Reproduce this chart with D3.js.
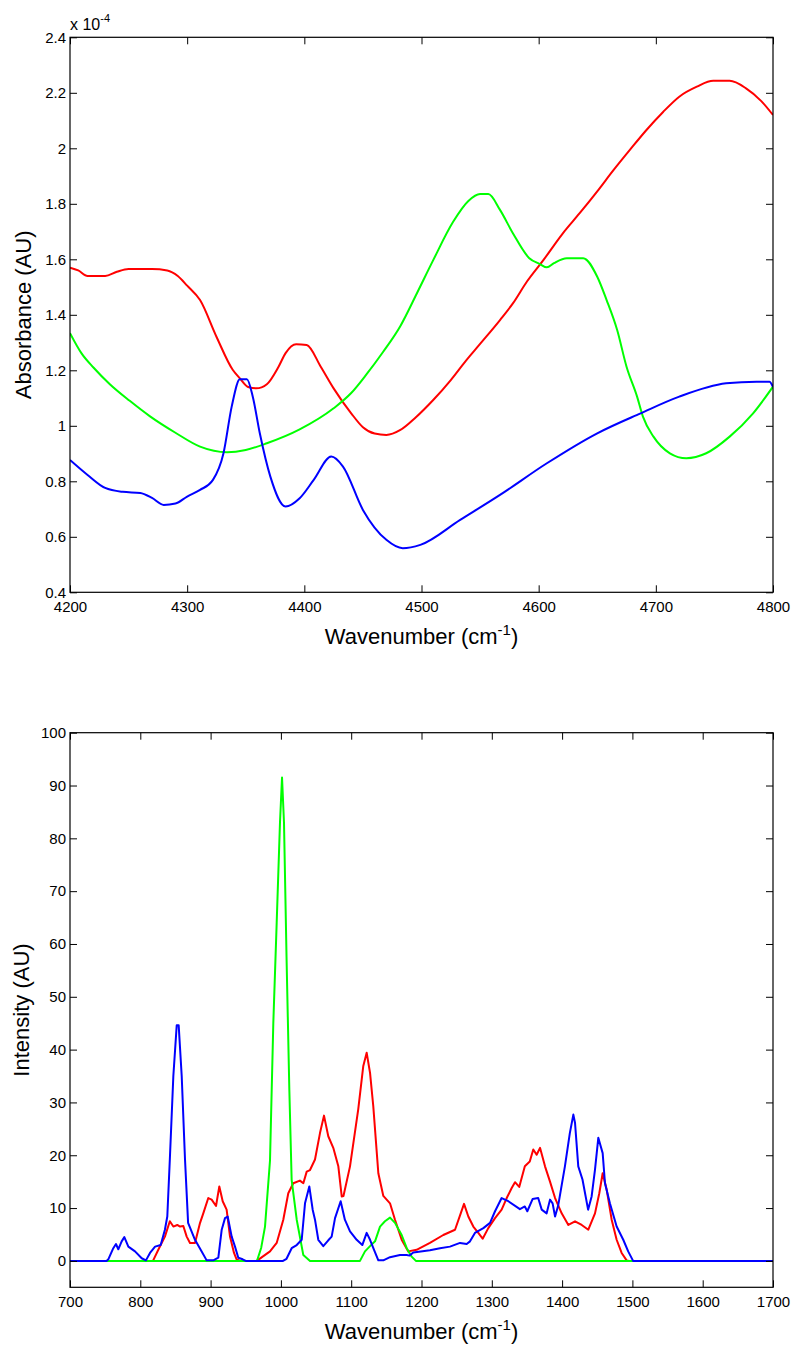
<!DOCTYPE html>
<html>
<head>
<meta charset="utf-8">
<script src="https://cdn.jsdelivr.net/npm/d3@7"></script>
<style>
body { margin: 0; background: #fff; }
svg text { font-family: "Liberation Sans", Arial, Helvetica, sans-serif; fill: #000; }
</style>
</head>
<body>
<div id="chart"></div>
<script>
// top panel: absorbance, values in units of 1e-4 AU, [wavenumber, value]
const absRed = [
    [4200, 1.57], [4207, 1.56], [4215, 1.54], [4230, 1.54], [4240, 1.555], [4250, 1.565],
    [4270, 1.565], [4283, 1.56], [4292, 1.54], [4300, 1.505], [4311, 1.453], [4325, 1.321],
    [4339, 1.201], [4345, 1.171], [4352, 1.14], [4359, 1.135], [4368, 1.15], [4378, 1.213],
    [4384, 1.262], [4393, 1.294], [4402, 1.291], [4414, 1.213], [4425, 1.135], [4440, 1.045],
    [4450, 0.995], [4460, 0.972], [4470, 0.967], [4482, 0.985], [4495, 1.03], [4510, 1.093],
    [4525, 1.165], [4538, 1.235], [4550, 1.295], [4567, 1.381], [4578, 1.441], [4590, 1.52],
    [4604, 1.597], [4620, 1.69], [4635, 1.766], [4650, 1.845], [4664, 1.922], [4678, 1.995],
    [4692, 2.066], [4706, 2.13], [4720, 2.186], [4735, 2.222], [4749, 2.243], [4763, 2.243],
    [4777, 2.216], [4790, 2.17], [4800, 2.12]
];
const absGreen = [
    [4200, 1.334], [4210, 1.26], [4220, 1.21], [4234, 1.15], [4251, 1.09], [4268, 1.035],
    [4290, 0.975], [4311, 0.925], [4334, 0.905], [4350, 0.913], [4368, 0.937], [4396, 0.987],
    [4425, 1.063], [4440, 1.118], [4453, 1.185], [4467, 1.265], [4482, 1.36], [4496, 1.477],
    [4510, 1.597], [4527, 1.735], [4540, 1.81], [4550, 1.835], [4557, 1.835], [4567, 1.778],
    [4578, 1.694], [4592, 1.604], [4601, 1.583], [4607, 1.571], [4613, 1.586], [4624, 1.604],
    [4638, 1.604], [4650, 1.537], [4658, 1.453], [4667, 1.345], [4675, 1.213], [4684, 1.105],
    [4689, 1.033], [4698, 0.961], [4712, 0.901], [4726, 0.883], [4743, 0.901], [4763, 0.961],
    [4783, 1.045], [4800, 1.141]
];
const absBlue = [
    [4200, 0.877], [4215, 0.823], [4230, 0.776], [4245, 0.762], [4260, 0.758], [4270, 0.74],
    [4280, 0.715], [4290, 0.72], [4300, 0.745], [4311, 0.769], [4322, 0.805], [4331, 0.901],
    [4338, 1.069], [4345, 1.168], [4351, 1.168], [4356, 1.105], [4362, 0.973], [4371, 0.817],
    [4384, 0.709], [4396, 0.739], [4408, 0.805], [4423, 0.889], [4433, 0.853], [4450, 0.697],
    [4470, 0.589], [4484, 0.559], [4499, 0.571], [4533, 0.661], [4567, 0.751], [4607, 0.865],
    [4650, 0.973], [4687, 1.045], [4720, 1.105], [4760, 1.153], [4786, 1.159], [4797, 1.159],
    [4800, 1.14]
];
const absXTicks = [4200, 4300, 4400, 4500, 4600, 4700, 4800];
const absYTicks = [0.4, 0.6, 0.8, 1, 1.2, 1.4, 1.6, 1.8, 2, 2.2, 2.4];

// bottom panel: Raman intensity, [wavenumber, value]
const ramanRed = [
    [700, 0], [818, 0], [825.6, 2.1], [835, 4.6], [842, 7.5], [847, 6.5], [852.6, 6.8],
    [856.5, 6.5], [861.2, 6.6], [866, 4.6], [870.7, 3.4], [877.8, 3.4], [885, 7.2], [889.6, 9.0],
    [896.7, 11.9], [901.5, 11.6], [907.7, 10.4], [912.4, 14.1], [917.2, 11.3], [922.8, 9.7],
    [927.6, 4.6], [933.3, 1.5], [937, 0.3], [942, 0], [965.6, 0], [984.5, 1.8], [994, 3.4],
    [1003.4, 7.8], [1010.5, 12.8], [1017.6, 14.7], [1027, 15.2], [1031.9, 14.7], [1036.7, 16.9],
    [1041.4, 17.2], [1048.5, 19.2], [1055.6, 24.2], [1061.3, 27.5], [1067.4, 23.6], [1074.5, 21.4],
    [1081.7, 17.9], [1086.5, 12.2], [1089, 12.3], [1098.3, 17.9], [1110, 28.7], [1117.2, 36.9],
    [1122, 39.4], [1126.8, 35.6], [1131.4, 29.3], [1138.6, 16.6], [1145.7, 12.3], [1155.2, 10.9],
    [1162.3, 7.8], [1171.8, 4.0], [1181.2, 1.8], [1193, 2.1], [1212, 3.4], [1231, 4.9],
    [1247.7, 5.9], [1255.8, 9.0], [1260.5, 10.8], [1266.6, 8.4], [1273.7, 6.5], [1280.8, 5.3],
    [1287, 4.2], [1295, 6.2], [1304.6, 8.1], [1314, 9.7], [1321.2, 11.9], [1328.3, 13.8],
    [1333, 14.9], [1339, 14.0], [1347, 17.9], [1354, 18.8], [1359, 21.1], [1363.8, 20.1],
    [1368.6, 21.4], [1375.7, 17.9], [1382.8, 15.0], [1390, 11.9], [1399.4, 9.0], [1408.9, 6.8],
    [1418.4, 7.5], [1427.9, 6.8], [1437.3, 5.9], [1446.8, 9.0], [1452.9, 12.8], [1457.7, 16.6],
    [1463.4, 13.5], [1470.5, 7.8], [1477.6, 4.0], [1484.7, 1.5], [1491.8, 0.1], [1495, 0],
    [1700, 0]
];
const ramanGreen = [
    [700, 0], [966, 0], [972, 2.5], [977.4, 6.5], [984.5, 19], [989.2, 45], [994, 64],
    [998.7, 83], [1001.6, 91.5], [1004.4, 83], [1008, 57.6], [1012, 32.4], [1015.3, 15.3],
    [1022.5, 7.8], [1031.9, 1.1], [1041.4, 0], [1112.5, 0], [1119.6, 1.8], [1126.8, 2.8],
    [1133.9, 3.7], [1141, 6.5], [1148, 7.5], [1155.2, 8.2], [1162.3, 7.2], [1171.8, 4.9],
    [1179, 2.4], [1186, 0.8], [1192, 0], [1700, 0]
];
const ramanBlue = [
    [700, 0], [752, 0], [754.5, 0.3], [761.6, 2.4], [765.4, 3.2], [768.7, 2.2], [773.5, 3.7],
    [777.3, 4.5], [783, 2.7], [792.5, 1.8], [802, 0.5], [808, 0.1], [813.8, 1.5], [821, 2.7],
    [829, 3.0], [835, 5.9], [838.4, 8.4], [842, 19.2], [847, 35], [851.8, 44.6], [854.6, 44.6],
    [858.9, 35], [863.6, 19.2], [868, 7.2], [877.8, 4.0], [887.3, 1.8], [894.4, 0.1], [903.8, 0.1],
    [911, 0.6], [915.8, 5.9], [920.5, 8.1], [924.3, 8.4], [930, 4.6], [934.7, 2.7], [939.4, 0.6],
    [945.6, 0.3], [950, 0], [1003, 0], [1008, 0.4], [1015.3, 2.4], [1022.5, 3.0], [1029.6, 4.0],
    [1034.3, 10.9], [1040.4, 14.1], [1045.2, 9.7], [1048.5, 7.8], [1053.2, 4.0], [1060.3, 2.8],
    [1067.4, 3.9], [1072.2, 4.6], [1077, 8.1], [1085, 11.3], [1091, 7.8], [1098.3, 5.6],
    [1107.8, 4.0], [1115.8, 3.0], [1122, 5.3], [1126.8, 4.0], [1132.5, 2.1], [1138.6, 0.1],
    [1145.7, 0.1], [1155.2, 0.7], [1169.4, 1.1], [1179, 1.1], [1183, 1.0], [1188.3, 1.6],
    [1212, 2.0], [1226.3, 2.4], [1240.5, 2.7], [1254.8, 3.4], [1264.3, 3.2], [1269, 3.7],
    [1276, 5.3], [1288, 6.2], [1297.5, 7.2], [1304.6, 9.4], [1314, 11.9], [1323.5, 11.3],
    [1340, 9.8], [1347, 10.3], [1350.5, 9.4], [1358, 11.7], [1366, 11.9], [1371, 9.7],
    [1378, 9.0], [1382.8, 11.6], [1386.5, 10.9], [1390, 8.4], [1394.6, 10.6], [1404, 17.9],
    [1411, 24.2], [1416, 27.7], [1418.4, 26.1], [1423, 17.9], [1429, 15.4], [1437, 9.7],
    [1442, 12.2], [1446.8, 17.3], [1451.5, 23.3], [1457.7, 20.4], [1461, 14.7], [1468, 10.9],
    [1477.6, 6.5], [1487, 4.0], [1494, 1.8], [1501, 0], [1700, 0]
];
const ramanXTicks = [700, 800, 900, 1000, 1100, 1200, 1300, 1400, 1500, 1600, 1700];
const ramanYTicks = [0, 10, 20, 30, 40, 50, 60, 70, 80, 90, 100];

const width = 794, height = 1347;
const svg = d3.select("#chart").append("svg")
    .attr("width", width)
    .attr("height", height);

function drawPanel(opt) {
    const x = d3.scaleLinear().domain(opt.xDomain).range([opt.left, opt.left + opt.w]);
    const y = d3.scaleLinear().domain(opt.yDomain).range([opt.top + opt.h, opt.top]);
    const g = svg.append("g");

    g.append("clipPath").attr("id", opt.id)
        .append("rect")
        .attr("x", opt.left).attr("y", opt.top)
        .attr("width", opt.w).attr("height", opt.h);

    const line = d3.line()
        .x(d => x(d[0]))
        .y(d => y(d[1]))
        .curve(opt.curve);

    // plot order red, green, blue (blue ends up on top)
    g.append("g")
        .attr("clip-path", `url(#${opt.id})`)
        .selectAll("path")
        .data(opt.series)
        .join("path")
        .attr("d", d => line(d.values))
        .attr("fill", "none")
        .attr("stroke", d => d.color)
        .attr("stroke-width", 2)
        .attr("stroke-linejoin", "round");

    const fmt = d3.format("~g");
    const bottom = opt.top + opt.h, right = opt.left + opt.w;

    const styleAxis = a => {
        a.select(".domain").remove();
        a.attr("font-size", 15).attr("font-family", null);
        a.selectAll(".tick line").attr("stroke", "#000");
    };

    g.append("g").attr("transform", `translate(0,${bottom})`)
        .call(d3.axisBottom(x).tickValues(opt.xTicks).tickSize(-7).tickPadding(9).tickFormat(fmt))
        .call(styleAxis);
    g.append("g").attr("transform", `translate(0,${opt.top})`)
        .call(d3.axisTop(x).tickValues(opt.xTicks).tickSize(-7).tickFormat(""))
        .call(styleAxis);
    g.append("g").attr("transform", `translate(${opt.left},0)`)
        .call(d3.axisLeft(y).tickValues(opt.yTicks).tickSize(-7).tickPadding(4).tickFormat(fmt))
        .call(styleAxis);
    g.append("g").attr("transform", `translate(${right},0)`)
        .call(d3.axisRight(y).tickValues(opt.yTicks).tickSize(-7).tickFormat(""))
        .call(styleAxis);

    g.append("rect")
        .attr("x", opt.left).attr("y", opt.top)
        .attr("width", opt.w).attr("height", opt.h)
        .attr("fill", "none")
        .attr("stroke", "#000")
        .attr("stroke-width", 1.2);

    // x label with superscript
    const xl = g.append("text")
        .attr("x", opt.left + opt.w / 2)
        .attr("y", bottom + opt.xLabelGap)
        .attr("text-anchor", "middle")
        .attr("font-size", 22);
    xl.append("tspan").text("Wavenumber (cm");
    xl.append("tspan").attr("dy", -9).attr("font-size", 15).text("-1");
    xl.append("tspan").attr("dy", 9).text(")");

    g.append("text")
        .attr("transform", `translate(${opt.yLabelX},${opt.top + opt.h / 2}) rotate(-90)`)
        .attr("text-anchor", "middle")
        .attr("font-size", 22)
        .text(opt.yLabel);

    return { x, y };
}

drawPanel({
    id: "clipAbs",
    left: 70, top: 37.3, w: 703, h: 555,
    xDomain: [4200, 4800], yDomain: [0.4, 2.4],
    xTicks: absXTicks, yTicks: absYTicks,
    curve: d3.curveMonotoneX,
    series: [
        { color: "#ff0000", values: absRed },
        { color: "#00ff00", values: absGreen },
        { color: "#0000ff", values: absBlue }
    ],
    xLabelGap: 52,
    yLabel: "Absorbance (AU)",
    yLabelX: 31
});

// exponent note above the top-left corner
const expo = svg.append("text")
    .attr("x", 70).attr("y", 30)
    .attr("font-size", 16);
expo.append("tspan").text("x 10");
expo.append("tspan").attr("dy", -8).attr("font-size", 11).text("-4");

drawPanel({
    id: "clipRaman",
    left: 70, top: 732.7, w: 703, h: 554.6,
    xDomain: [700, 1700], yDomain: [-5, 100],
    xTicks: ramanXTicks, yTicks: ramanYTicks,
    curve: d3.curveLinear,
    series: [
        { color: "#ff0000", values: ramanRed },
        { color: "#00ff00", values: ramanGreen },
        { color: "#0000ff", values: ramanBlue }
    ],
    xLabelGap: 52,
    yLabel: "Intensity (AU)",
    yLabelX: 29
});
</script>
</body>
</html>
